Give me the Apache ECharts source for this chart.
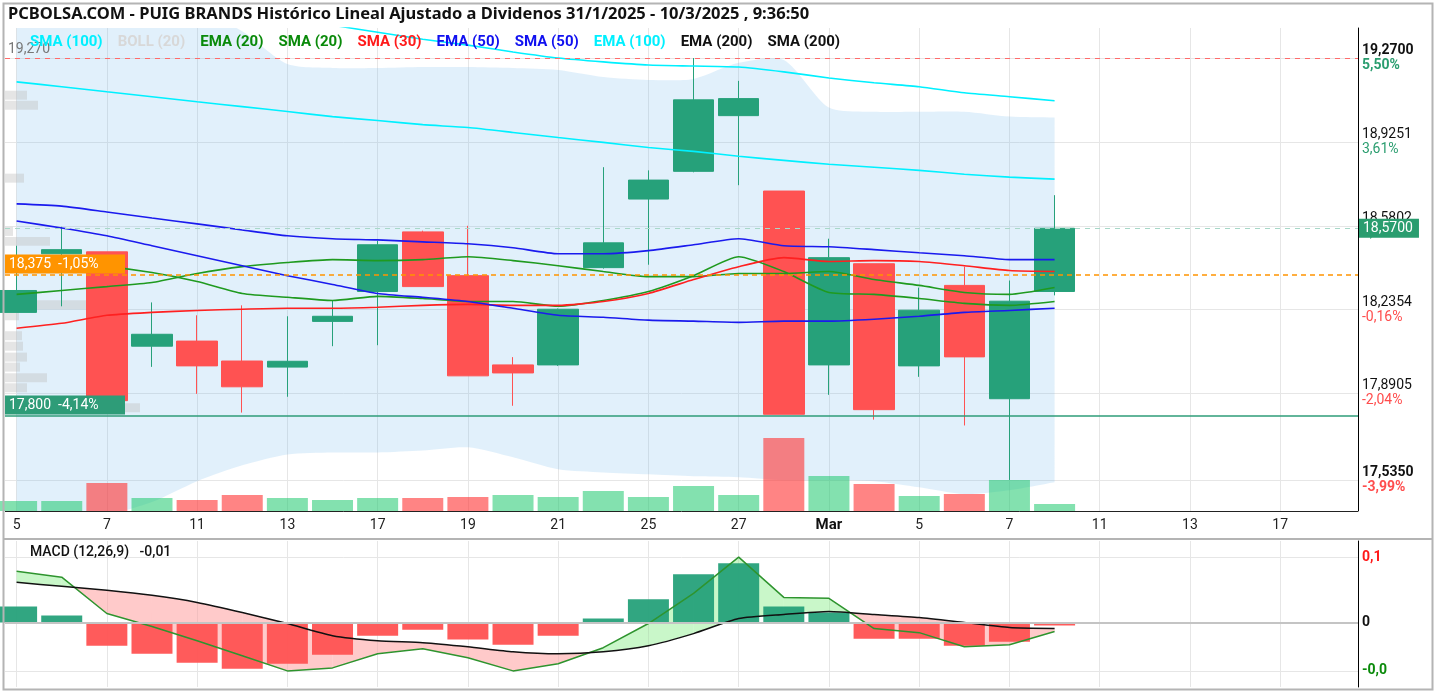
<!DOCTYPE html>
<html>
<head>
<meta charset="utf-8">
<title>PUIG BRANDS</title>
<script src="https://cdn.jsdelivr.net/npm/echarts@6/dist/echarts.min.js"></script>
<style>
  html, body { margin: 0; padding: 0; background: #fff; }
  #chart { width: 1437px; height: 693px; }
</style>
</head>
<body>
<div id="chart"></div>
<script>
'use strict';
/* PUIG BRANDS daily candles, indicators, volume and MACD */

var dates = ['2025-02-05', '2025-02-06', '2025-02-07', '2025-02-10', '2025-02-11', '2025-02-12', '2025-02-13',
  '2025-02-14', '2025-02-17', '2025-02-18', '2025-02-19', '2025-02-20', '2025-02-21', '2025-02-24', '2025-02-25',
  '2025-02-26', '2025-02-27', '2025-02-28', '2025-03-03', '2025-03-04', '2025-03-05', '2025-03-06', '2025-03-07',
  '2025-03-10', '2025-03-11', '2025-03-12', '2025-03-13', '2025-03-14', '2025-03-17', '2025-03-18'];
var monthNames = ['Ene', 'Feb', 'Mar', 'Abr', 'May', 'Jun', 'Jul', 'Ago', 'Sep', 'Oct', 'Nov', 'Dic'];

// [open, close, low, high]
var ohlc = [
  [18.224, 18.314, 18.224, 18.498],
  [18.465, 18.482, 18.249, 18.576],
  [18.473, 17.861, 17.861, 18.473],
  [18.085, 18.134, 18.000, 18.265],
  [18.106, 18.004, 17.889, 18.212],
  [18.024, 17.918, 17.812, 18.253],
  [17.999, 18.023, 17.877, 18.208],
  [18.187, 18.208, 18.085, 18.273],
  [18.310, 18.502, 18.089, 18.518],
  [18.555, 18.330, 18.330, 18.560],
  [18.375, 17.963, 17.963, 18.580],
  [18.008, 17.975, 17.840, 18.040],
  [18.008, 18.237, 18.004, 18.240],
  [18.408, 18.510, 18.404, 18.821],
  [18.690, 18.768, 18.420, 18.808],
  [18.804, 19.098, 18.800, 19.270],
  [19.033, 19.103, 18.747, 19.176],
  [18.723, 17.805, 17.805, 18.723],
  [18.008, 18.449, 17.885, 18.527],
  [18.424, 17.824, 17.783, 18.424],
  [18.004, 18.233, 17.959, 18.326],
  [18.335, 18.041, 17.759, 18.412],
  [17.869, 18.270, 17.535, 18.355],
  [18.310, 18.570, 18.294, 18.706]
];
var volumes = [200, 200, 560, 260, 220, 320, 260, 220, 260, 260, 280, 320, 280, 400, 280, 500, 320, 1460, 700, 540, 300, 340, 620, 140];

var sma100 = [19.605, 19.576, 19.548, 19.519, 19.491, 19.462, 19.433, 19.405, 19.376, 19.347, 19.323, 19.295,
  19.270, 19.254, 19.241, 19.237, 19.233, 19.213, 19.188, 19.168, 19.152, 19.127, 19.111, 19.094];
var ema100 = [19.172, 19.152, 19.131, 19.111, 19.090, 19.070, 19.050, 19.029, 19.013, 18.996, 18.984, 18.964,
  18.943, 18.923, 18.902, 18.886, 18.866, 18.849, 18.833, 18.821, 18.808, 18.792, 18.780, 18.772];
var ema20 = [18.298, 18.314, 18.330, 18.347, 18.384, 18.412, 18.429, 18.441, 18.437, 18.441, 18.453, 18.437,
  18.416, 18.392, 18.371, 18.371, 18.384, 18.384, 18.392, 18.359, 18.335, 18.306, 18.298, 18.326];
var sma20 = [18.437, 18.424, 18.412, 18.388, 18.351, 18.302, 18.286, 18.273, 18.290, 18.281, 18.269, 18.269,
  18.249, 18.273, 18.310, 18.375, 18.453, 18.392, 18.306, 18.298, 18.281, 18.261, 18.253, 18.269];
var sma30 = [18.159, 18.179, 18.212, 18.224, 18.232, 18.237, 18.241, 18.241, 18.245, 18.253, 18.257, 18.253,
  18.253, 18.269, 18.302, 18.359, 18.412, 18.449, 18.433, 18.437, 18.433, 18.416, 18.396, 18.392];
var ema50 = [18.670, 18.661, 18.637, 18.612, 18.588, 18.563, 18.539, 18.527, 18.522, 18.514, 18.506, 18.490,
  18.465, 18.465, 18.478, 18.502, 18.527, 18.498, 18.494, 18.482, 18.469, 18.457, 18.441, 18.441];
var sma50 = [18.600, 18.571, 18.539, 18.498, 18.457, 18.416, 18.375, 18.339, 18.302, 18.286, 18.269, 18.241,
  18.212, 18.204, 18.192, 18.188, 18.183, 18.188, 18.188, 18.196, 18.208, 18.224, 18.232, 18.241];
var bollUpper = [19.487, 19.487, 19.480, 19.470, 19.466, 19.380, 19.245, 19.229, 19.229, 19.233, 19.233, 19.229,
  19.221, 19.192, 19.180, 19.184, 19.250, 19.262, 19.066, 19.049, 19.049, 19.049, 19.029, 19.025];
var bollLower = [17.362, 17.375, 17.391, 17.444, 17.530, 17.595, 17.640, 17.648, 17.648, 17.656, 17.669, 17.628,
  17.579, 17.566, 17.558, 17.550, 17.546, 17.534, 17.534, 17.530, 17.505, 17.477, 17.493, 17.526];

// volume at price: [price, amount]
var priceProfile = [[19.117, 22], [19.076, 33], [18.776, 19], [18.557, 8], [18.516, 45], [18.255, 82],
  [18.210, 14], [18.128, 17], [18.085, 18], [18.040, 22], [17.999, 15], [17.955, 42], [17.914, 22], [17.832, 135]];

var macdLine = [0.0478, 0.0422, 0.0084, -0.0037, -0.0169, -0.0309, -0.0450, -0.0422, -0.0291, -0.0244, -0.0328,
  -0.0450, -0.0384, -0.0234, -0.0009, 0.0272, 0.0609, 0.0234, 0.0225, -0.0056, -0.0094, -0.0225, -0.0206, -0.0084];
var macdSignal = [0.0375, 0.0337, 0.0300, 0.0253, 0.0187, 0.0094, -0.0009, -0.0122, -0.0169, -0.0187, -0.0225,
  -0.0272, -0.0291, -0.0272, -0.0216, -0.0103, 0.0037, 0.0075, 0.0103, 0.0075, 0.0047, 0.0000, -0.0047, -0.0056];
var macdHist = [0.0150, 0.0066, -0.0216, -0.0291, -0.0375, -0.0431, -0.0384, -0.0300, -0.0122, -0.0066, -0.0159,
  -0.0206, -0.0122, 0.0037, 0.0216, 0.0450, 0.0553, 0.0150, 0.0094, -0.0150, -0.0150, -0.0216, -0.0178, -0.0028];

var priceTicks = [17.535, 17.8905, 18.2354, 18.5802, 18.9251, 19.27];
var periodBase = 18.2648;   // close 31/1/2025
var maxLevel = 19.27;
var supportLevels = [18.375, 17.8];

var indicatorNames = ['SMA (100)', 'BOLL (20)', 'EMA (20)', 'SMA (20)', 'SMA (30)', 'EMA (50)', 'SMA (50)', 'EMA (100)', 'EMA (200)', 'SMA (200)'];
var indicatorColors = ['#00f0ff', '#d8d8d8', '#0a8a0a', '#0a8a0a', '#ff1a1a', '#1010f0', '#1010f0', '#00f0ff', '#111', '#111'];

var n = ohlc.length;
var lastClose = ohlc[n - 1][1];
var UP = '#26a17a', DOWN = '#ff5252';
var X_MIN = -0.257, X_MAX = 29.723;   // visible window in trading-day units

var dayTicks = dates.map(function(d, i) { return i; }).filter(function(i) { return i % 2 === 0; });

function fmtNum(v, d) { return v.toFixed(d).replace('.', ','); }
function pctOf(v, base) {
  var p = Math.trunc((v / base - 1) * 10000) / 100;
  return fmtNum(p, 2) + '%';
}
function indexed(arr) { return arr.map(function(v, i) { return [i, v]; }); }

function dayLabel(v) {
  var idx = Math.round(v);
  var p = dates[idx].split('-');
  if (idx > 0 && dates[idx - 1].split('-')[1] !== p[1]) return '{m|' + monthNames[+p[1] - 1] + '}';
  return String(+p[2]);
}

function priceLabel(v) {
  var k = priceTicks.indexOf(v);
  var b = (k === 0 || k === priceTicks.length - 1) ? 'b' : '';
  var c = v >= periodBase ? 'g' : 'r';
  return '{v' + b + '|' + fmtNum(v, 4) + '}\n{' + c + b + '|' + pctOf(v, periodBase) + '}';
}

var macdMax = Math.max.apply(null, macdLine), macdMin = Math.min.apply(null, macdLine);
var macdTicks = [macdMin, 0, macdMax];
function macdLabel(v) {
  if (v === 0) return '{z|0}';
  return '{' + (v > 0 ? 'p' : 'q') + '|' + fmtNum(v, 1) + '}';
}

var legendRich = {};
indicatorNames.forEach(function(t, k) {
  legendRich['i' + k] = { color: indicatorColors[k], fontSize: 15, fontFamily: 'Roboto', fontWeight: 'bold' };
});
var legendText = indicatorNames.map(function(t, k) { return '{i' + k + '|' + t + '}'; }).join('   ');

var volData = volumes.map(function(v, i) {
  var prev = i > 0 ? ohlc[i - 1][1] : ohlc[i][0];
  return { value: [i, v], itemStyle: { color: ohlc[i][1] >= prev ? 'rgba(30,200,110,0.55)' : 'rgba(255,50,50,0.6)' } };
});

function maLine(name, data, color) {
  return {
    name: name, type: 'line', xAxisIndex: 0, yAxisIndex: 0, data: indexed(data),
    symbol: 'none', smooth: 0.2, z: 4, silent: true,
    lineStyle: { color: color, width: 1.6 }
  };
}

function levelLabelBox(v, bg) {
  return {
    yAxis: v,
    lineStyle: { color: bg, type: bg === '#ff9400' ? [5, 4] : 'solid', width: 1.5 },
    label: {
      position: 'insideStartTop', distance: [0, 1],
      formatter: fmtNum(v, 3) + '  ' + pctOf(v, lastClose),
      backgroundColor: bg, color: '#fff', fontFamily: 'Roboto', fontSize: 14,
      padding: [3, 6, 2, 4], width: 110
    }
  };
}

var dayAxisBase = {
  type: 'value', min: X_MIN, max: X_MAX,
  axisLine: { show: false },
  axisTick: { show: false, customValues: dayTicks },
  splitLine: { show: true, lineStyle: { color: '#e6e6e6' } }
};

var chart = echarts.init(document.getElementById('chart'));

var option = {
  animation: false,
  backgroundColor: '#fff',
  title: [{
    text: 'PCBOLSA.COM - PUIG BRANDS Histórico Lineal Ajustado a Dividenos 31/1/2025 - 10/3/2025 , 9:36:50',
    left: 8, top: 6, padding: 0,
    textStyle: { fontFamily: 'Noto Sans', fontSize: 16.5, fontWeight: 'bold', color: '#111' }
  }, {
    text: legendText, left: 30, top: 33, padding: 0,
    textStyle: { rich: legendRich }
  }, {
    text: 'MACD (12,26,9)   ' + fmtNum(macdLine[n - 1], 2), left: 30, top: 545, padding: 0,
    textStyle: { fontFamily: 'Roboto', fontSize: 14, fontWeight: 500, color: '#111' }
  }],
  grid: [
    { left: 5, right: 79, top: 28, bottom: 182 },
    { left: 5, right: 79, top: 541, bottom: 6 },
    { left: 5, right: 79, top: 28, bottom: 182 }
  ],
  xAxis: [
    echarts.util.merge({
      gridIndex: 0,
      axisLabel: {
        customValues: dayTicks, margin: 7, fontFamily: 'Roboto', fontSize: 14, color: '#222', formatter: dayLabel,
        rich: { m: { fontFamily: 'Roboto', fontSize: 15, fontWeight: 'bold', color: '#111' } }
      }
    }, dayAxisBase),
    echarts.util.merge({ gridIndex: 1, axisLabel: { show: false } }, dayAxisBase),
    { type: 'value', gridIndex: 2, min: 0, max: 1353, show: false }
  ],
  yAxis: [{
    type: 'value', gridIndex: 0, position: 'right',
    min: 17.4073, max: 19.3934,
    axisLine: { show: true, onZero: false, lineStyle: { color: '#000' } },
    axisTick: { show: false, customValues: priceTicks },
    axisLabel: {
      customValues: priceTicks, margin: 4, formatter: priceLabel,
      rich: {
        v: { fontFamily: 'Roboto', fontSize: 14, color: '#111', lineHeight: 15 },
        vb: { fontFamily: 'Roboto', fontSize: 14, color: '#111', fontWeight: 'bold', lineHeight: 15 },
        g: { fontFamily: 'Roboto', fontSize: 14, color: '#2a9d6f', lineHeight: 15 },
        gb: { fontFamily: 'Roboto', fontSize: 14, color: '#2a9d6f', fontWeight: 'bold', lineHeight: 15 },
        r: { fontFamily: 'Roboto', fontSize: 14, color: '#ff4d4d', lineHeight: 15 },
        rb: { fontFamily: 'Roboto', fontSize: 14, color: '#ff4d4d', fontWeight: 'bold', lineHeight: 15 }
      }
    },
    splitLine: { show: true, lineStyle: { color: '#e6e6e6' } }
  }, {
    type: 'value', gridIndex: 0, min: 0, max: 9660, show: false
  }, {
    type: 'value', gridIndex: 1, position: 'right', min: -0.06, max: 0.0759,
    axisLine: { show: true, onZero: false, lineStyle: { color: '#000' } },
    axisTick: { show: false, customValues: macdTicks },
    axisLabel: {
      customValues: macdTicks, margin: 4, formatter: macdLabel,
      rich: {
        z: { fontFamily: 'Roboto', fontSize: 14, fontWeight: 'bold', color: '#111' },
        p: { fontFamily: 'Roboto', fontSize: 14, fontWeight: 'bold', color: '#ff1a1a' },
        q: { fontFamily: 'Roboto', fontSize: 14, fontWeight: 'bold', color: '#0a8a0a' }
      }
    },
    splitLine: { show: true, lineStyle: { color: '#e6e6e6' } }
  }, {
    type: 'value', gridIndex: 2, min: 17.4073, max: 19.3934, show: false
  }],
  series: [{
    name: 'BOLL (20)', type: 'custom', xAxisIndex: 0, yAxisIndex: 0, z: 1, silent: true, clip: true,
    data: bollUpper.map(function(v, i) { return [i, v, bollLower[i]]; }),
    encode: { x: 0, y: [1, 2] },
    renderItem: function(params, api) {
      if (params.dataIndex !== 0) return null;
      var upper = bollUpper.map(function(v, i) { return api.coord([i, v]); });
      var lower = bollLower.map(function(v, i) { return api.coord([i, v]); }).reverse();
      // doubled end points keep the band's ends square while the edges stay smooth
      var pts = [upper[0]].concat(upper, [upper[n - 1], lower[0]], lower, [lower[n - 1]]);
      return {
        type: 'polygon',
        shape: { points: pts, smooth: 0.25 },
        style: { fill: 'rgba(120,185,235,0.22)' }
      };
    }
  }, {
    name: 'profile', type: 'custom', xAxisIndex: 2, yAxisIndex: 3, data: priceProfile,
    encode: { x: 1, y: 0 }, z: 1, silent: true,
    renderItem: function(params, api) {
      var half = 0.0185;
      var top = api.coord([api.value(1), api.value(0) + half]);
      var base = api.coord([0, api.value(0) - half]);
      return {
        type: 'rect',
        shape: { x: base[0], y: top[1], width: top[0] - base[0], height: base[1] - top[1] },
        style: { fill: 'rgba(190,190,190,0.4)' }
      };
    }
  }, {
    name: 'Volumen', type: 'bar', xAxisIndex: 0, yAxisIndex: 1, data: volData,
    barWidth: 41, z: 2, silent: true
  }, {
    name: 'PUIG', type: 'candlestick', xAxisIndex: 0, yAxisIndex: 0,
    data: ohlc.map(function(d, i) { return [i].concat(d); }),
    encode: { x: 0, y: [1, 2, 3, 4] },
    barWidth: 41, z: 3, silent: true,
    itemStyle: { color: UP, color0: DOWN, borderColor: UP, borderColor0: DOWN, borderWidth: 1 }
  },
  maLine('SMA (100)', sma100, '#00f0ff'),
  maLine('EMA (100)', ema100, '#00f0ff'),
  maLine('EMA (20)', ema20, '#1f9a1f'),
  maLine('SMA (20)', sma20, '#1f9a1f'),
  maLine('SMA (30)', sma30, '#ff2020'),
  maLine('EMA (50)', ema50, '#1a1aee'),
  maLine('SMA (50)', sma50, '#1a1aee'),
  {
    name: 'levels', type: 'line', xAxisIndex: 0, yAxisIndex: 0, data: [], z: 6, silent: true,
    markLine: {
      symbol: ['none', 'none'], silent: true, animation: false,
      data: [{
        yAxis: maxLevel,
        lineStyle: { color: '#ff6b6b', type: [5, 5], width: 1.2 },
        label: {
          position: 'insideStartTop', distance: [3, 2], formatter: fmtNum(maxLevel, 3),
          color: '#777', fontFamily: 'Roboto', fontSize: 14
        }
      }, {
        yAxis: lastClose,
        lineStyle: { color: '#a8d8c8', type: [5, 5], width: 1.2 },
        label: {
          position: 'end', distance: [1, 0], formatter: fmtNum(lastClose, 4),
          backgroundColor: '#2a9d6f', color: '#fff', fontFamily: 'Roboto', fontSize: 14,
          padding: [3, 6, 2, 4]
        }
      },
      levelLabelBox(supportLevels[0], '#ff9400'),
      levelLabelBox(supportLevels[1], '#2e9c78')]
    }
  }, {
    name: 'MACD fill', type: 'custom', xAxisIndex: 1, yAxisIndex: 2, z: 1, silent: true,
    data: macdLine.map(function(v, i) { return [i, v, macdSignal[i]]; }),
    encode: { x: 0, y: [1, 2] },
    renderItem: function(params, api) {
      var i = params.dataIndex;
      if (i >= n - 1) return null;
      var m0 = macdLine[i], s0 = macdSignal[i], m1 = macdLine[i + 1], s1 = macdSignal[i + 1];
      var pm0 = api.coord([i, m0]), ps0 = api.coord([i, s0]);
      var pm1 = api.coord([i + 1, m1]), ps1 = api.coord([i + 1, s1]);
      var d0 = m0 - s0, d1 = m1 - s1;
      var up = 'rgba(120,235,120,0.4)', dn = 'rgba(255,150,150,0.5)';
      if (d0 * d1 >= 0) {
        return { type: 'polygon', shape: { points: [pm0, pm1, ps1, ps0] }, style: { fill: (d0 + d1) >= 0 ? up : dn } };
      }
      var t = d0 / (d0 - d1);
      var pc = [pm0[0] + t * (pm1[0] - pm0[0]), pm0[1] + t * (pm1[1] - pm0[1])];
      return {
        type: 'group',
        children: [
          { type: 'polygon', shape: { points: [pm0, pc, ps0] }, style: { fill: d0 > 0 ? up : dn } },
          { type: 'polygon', shape: { points: [pc, pm1, ps1] }, style: { fill: d1 > 0 ? up : dn } }
        ]
      };
    }
  }, {
    name: 'Histograma', type: 'bar', xAxisIndex: 1, yAxisIndex: 2, barWidth: 41, z: 2, silent: true,
    data: macdHist.map(function(v, i) {
      return { value: [i, v], itemStyle: { color: v >= 0 ? UP : DOWN, opacity: 0.95 } };
    }),
    markLine: {
      symbol: ['none', 'none'], silent: true, animation: false, label: { show: false },
      data: [{ yAxis: 0 }],
      lineStyle: { color: '#c4c4c4', type: 'solid', width: 2 }
    }
  }, {
    name: 'MACD', type: 'line', xAxisIndex: 1, yAxisIndex: 2, data: indexed(macdLine),
    symbol: 'none', z: 3, silent: true, lineStyle: { color: '#2e942e', width: 1.5 }
  }, {
    name: 'Señal', type: 'line', xAxisIndex: 1, yAxisIndex: 2, data: indexed(macdSignal),
    symbol: 'none', smooth: 0.2, z: 3, silent: true, lineStyle: { color: '#111', width: 1.5 }
  }],
  graphic: [
    { type: 'line', shape: { x1: 5, y1: 511.5, x2: 1358, y2: 511.5 }, style: { stroke: '#222', lineWidth: 1 }, z: 100, silent: true },
    { type: 'line', shape: { x1: 4, y1: 539, x2: 1432, y2: 539 }, style: { stroke: '#b4b4b4', lineWidth: 2 }, z: 101, silent: true },
    { type: 'rect', shape: { x: 3.5, y: 3.5, width: 1429, height: 686 }, style: { fill: 'none', stroke: '#b4b4b4', lineWidth: 2 }, z: 101, silent: true }
  ]
};

chart.setOption(option);
</script>
</body>
</html>
